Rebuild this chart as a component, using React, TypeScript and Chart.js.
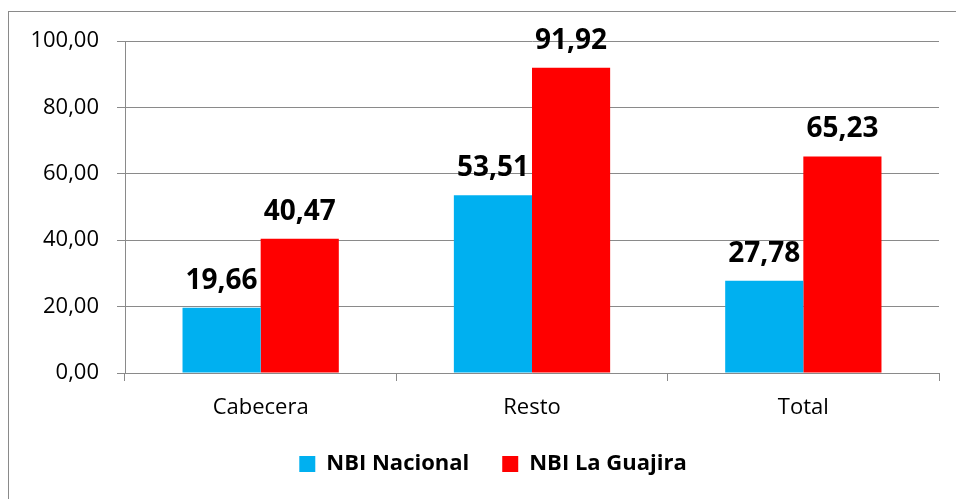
import React, { useEffect, useRef } from "react";
import { Chart, registerables } from "chart.js";

Chart.register(...registerables);

const categories = ["Cabecera", "Resto", "Total"];
const nbiNacional = [19.66, 53.51, 27.78];
const nbiGuajira = [40.47, 91.92, 65.23];
const seriesNames = ["NBI Nacional", "NBI La Guajira"];
const yTicks = { min: 0, max: 100, step: 20 };

const FONT = "'Open Sans', 'Noto Sans', sans-serif";
const fmt = (v: number) => v.toFixed(2).replace(".", ",");

const frame = {
  id: "frame",
  beforeDraw(chart: any) {
    const ctx = chart.ctx;
    ctx.save();
    ctx.fillStyle = "#ffffff";
    ctx.fillRect(0, 0, chart.width, chart.height);
    ctx.strokeStyle = "#8a8a8a";
    ctx.lineWidth = 1;
    ctx.strokeRect(8.5, 11.5, 2000, 2000);
    ctx.restore();
  },
};

// centre the legend under the same span as in the original (shifted right)
const legendShift = {
  id: "legendShift",
  afterLayout(chart: any) {
    const lg = chart.legend;
    if (lg) {
      lg.left = 47;
      lg.right = 939;
    }
  },
};

const dataLabels = {
  id: "dataLabels",
  afterDatasetsDraw(chart: any) {
    const ctx = chart.ctx;
    ctx.save();
    ctx.font = `bold 28px ${FONT}`;
    ctx.fillStyle = "#000000";
    ctx.textAlign = "center";
    ctx.textBaseline = "alphabetic";
    chart.data.datasets.forEach((ds: any, i: number) => {
      const meta = chart.getDatasetMeta(i);
      meta.data.forEach((bar: any, j: number) => {
        ctx.fillText(fmt(ds.data[j]), bar.x, bar.y - 19);
      });
    });
    ctx.restore();
  },
};

export default function App() {
  const ref = useRef<HTMLCanvasElement | null>(null);
  useEffect(() => {
    if (!ref.current) return;
    const chart = new Chart(ref.current, {
      type: "bar",
      data: {
        labels: categories,
        datasets: [
          {
            label: seriesNames[0],
            data: nbiNacional,
            backgroundColor: "#00B0F0",
            borderWidth: 0,
          },
          {
            label: seriesNames[1],
            data: nbiGuajira,
            backgroundColor: "#FF0000",
            borderWidth: 0,
          },
        ],
      },
      options: {
        responsive: false,
        animation: false,
        devicePixelRatio: 1,
        layout: { padding: { left: 0, right: 17, top: 41, bottom: 14 } },
        datasets: {
          bar: { categoryPercentage: 0.576, barPercentage: 1 },
        },
        plugins: {
          tooltip: { enabled: false },
          legend: {
            position: "bottom",
            labels: {
              boxWidth: 16,
              boxHeight: 16,
              padding: 33,
              color: "#000000",
              font: { family: FONT, size: 22, weight: "bold" },
            },
          },
        },
        scales: {
          x: {
            afterFit: (s: any) => {
              s.height = 47;
            },
            grid: {
              offset: true,
              drawOnChartArea: false,
              drawTicks: true,
              tickLength: 8,
              color: "#8a8a8a",
            },
            border: { display: true, color: "#8a8a8a" },
            ticks: {
              padding: 14,
              color: "#000000",
              font: { family: FONT, size: 22 },
            },
          },
          y: {
            min: yTicks.min,
            max: yTicks.max,
            afterFit: (s: any) => {
              s.width = 125;
            },
            grid: {
              color: "#8a8a8a",
              tickLength: 8,
              drawTicks: true,
            },
            border: { display: true, color: "#8a8a8a" },
            ticks: {
              stepSize: yTicks.step,
              padding: 18,
              color: "#000000",
              font: { family: FONT, size: 22 },
              callback: (v: any) => fmt(Number(v)),
            },
          },
        },
      },
      plugins: [frame, legendShift, dataLabels],
    });
    return () => chart.destroy();
  }, []);
  return (
    <div style={{ position: "fixed", left: 0, top: 0, width: 956, height: 499 }}>
      <canvas ref={ref} width={956} height={499} style={{ width: 956, height: 499 }} />
    </div>
  );
}
